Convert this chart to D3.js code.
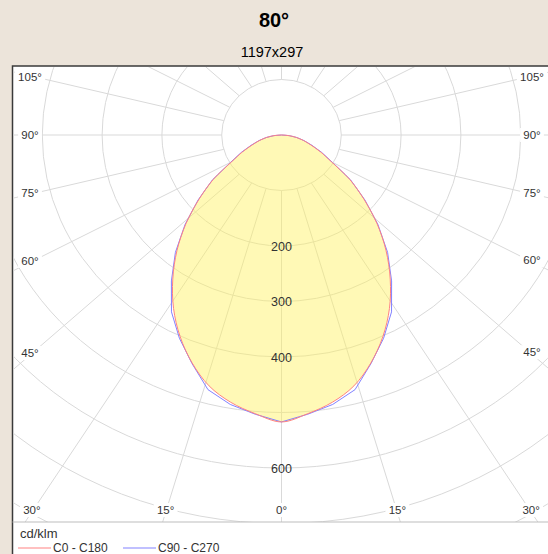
<!DOCTYPE html>
<html>
<head>
<meta charset="utf-8">
<script src="https://cdn.jsdelivr.net/npm/d3@7"></script>
<style>
  body { margin: 0; background: #ece4da; }
  svg { display: block; font-family: "Liberation Sans", Arial, sans-serif; }
</style>
</head>
<body>
<svg width="548" height="554"></svg>
<script>
// Chart data
var title = "80°";
var subtitle = "1197x297";
var unitLabel = "cd/klm";

// gamma angles (deg from nadir), 0..90 every 5
var gammas = [0, 5, 10, 15, 20, 25, 30, 35, 40, 45, 50, 55, 60, 65, 70, 75, 80, 85, 90];
// C0 - C180 plane, cd/klm
var c0c180 = [517, 504, 489, 468, 437, 401, 361, 317, 272, 226, 180, 139, 96, 72, 52, 38, 25, 12, 0];
// C90 - C270 plane, cd/klm
var c90c270 = [517, 505, 493, 475, 438, 404, 368, 321, 276, 228, 182, 141, 98, 74, 54, 39, 26, 13, 0];

var ringValues = [100, 200, 300, 400, 500, 600, 700, 800, 900, 1000, 1100, 1200];
var ringLabels = [200, 300, 400, 600];
var spokeAngles = d3.range(0, 360, 15);
var labelledAngles = [0, 15, 30, 45, 60, 75, 90, 105];

var legendNames = ["C0 - C180", "C90 - C270"];
var legendColors = ["#ff8282", "#8282ff"];

// Layout
var svg = d3.select("svg"),
    width = 548,
    height = 554;
var cx = 281.5, cy = 135;
var plot = { x0: 12.5, y0: 66, x1: 560, y1: 522 };

// the picture is stretched a bit horizontally
var x = d3.scaleLinear().domain([-1000, 1000]).range([cx - 598, cx + 598]);
var y = d3.scaleLinear().domain([0, 1000]).range([cy, cy + 555]);
var spokeStretch = 0.64 / 0.598;

function px(g, r) { return x(r * Math.sin(g * Math.PI / 180)); }
function py(g, r) { return y(r * Math.cos(g * Math.PI / 180)); }

// Titles
svg.append("text").attr("x", 274).attr("y", 27).attr("text-anchor", "middle")
    .style("font-size", "20px").style("font-weight", "bold").text(title);
svg.append("text").attr("x", 272).attr("y", 57).attr("text-anchor", "middle")
    .style("font-size", "14.5px").text(subtitle);

// Panel
svg.append("rect").attr("x", plot.x0).attr("y", plot.y0)
    .attr("width", 600).attr("height", 600)
    .attr("fill", "#fff").attr("stroke", "#3a3a3a").attr("stroke-width", 1.5);

svg.append("clipPath").attr("id", "clip").append("rect")
    .attr("x", plot.x0 + 1).attr("y", plot.y0 + 1)
    .attr("width", plot.x1 - plot.x0).attr("height", plot.y1 - plot.y0 - 1);

var g = svg.append("g").attr("clip-path", "url(#clip)");

// Rings
g.selectAll(".ring").data(ringValues).enter().append("ellipse")
    .attr("cx", cx).attr("cy", cy)
    .attr("rx", function(d) { return x(d) - x(0); })
    .attr("ry", function(d) { return y(d) - y(0); })
    .attr("fill", "none").attr("stroke", "#d9d9d9").attr("stroke-width", 1);

// Spokes
function spokeDir(a) {
  var t = a * Math.PI / 180;
  return [(x(1) - x(0)) * spokeStretch * Math.sin(t), (y(1) - y(0)) * Math.cos(t)];
}
g.selectAll(".spoke").data(spokeAngles).enter().append("line")
    .attr("x1", function(d) { return cx + spokeDir(d)[0] * 100 / spokeStretch; })
    .attr("y1", function(d) { return cy + spokeDir(d)[1] * 100; })
    .attr("x2", function(d) { return cx + spokeDir(d)[0] * 2000; })
    .attr("y2", function(d) { return cy + spokeDir(d)[1] * 2000; })
    .attr("stroke", "#d9d9d9").attr("stroke-width", 1);

// Light distribution: right half from 90 down to 0, then left half 5..90
function shape(vals) {
  var pts = [];
  for (var i = gammas.length - 1; i >= 0; i--) pts.push([px(gammas[i], vals[i]), py(gammas[i], vals[i])]);
  for (var j = 1; j < gammas.length - 1; j++) pts.push([px(-gammas[j], vals[j]), py(-gammas[j], vals[j])]);
  return pts;
}
var line = d3.line().curve(d3.curveCatmullRomClosed);

g.append("path").attr("d", line(shape(c0c180)))
    .attr("fill", "#fff25e").attr("fill-opacity", 0.45).attr("stroke", "none");
g.append("path").attr("d", d3.line().curve(d3.curveLinearClosed)(shape(c90c270)))
    .attr("fill", "none").attr("stroke", legendColors[1]).attr("stroke-width", 1);
g.append("path").attr("d", line(shape(c0c180)))
    .attr("fill", "none").attr("stroke", legendColors[0]).attr("stroke-width", 1);

// Ring value labels
g.selectAll(".rlab").data(ringLabels).enter().append("text")
    .attr("x", cx).attr("y", function(d) { return y(d) + 4.5; })
    .attr("text-anchor", "middle").style("font-size", "12.5px").attr("fill", "#333")
    .text(function(d) { return d; });

// Angle labels where spokes meet an inset box
var inset = { left: 30, right: 532, bottom: 510 };
var angLabs = [];
labelledAngles.forEach(function(a) {
  [-1, 1].forEach(function(s) {
    if (a === 0 && s === 1) return;
    var d = spokeDir(a * s), t = Infinity;
    if (d[0] < 0) t = Math.min(t, (inset.left - cx) / d[0]);
    if (d[0] > 0) t = Math.min(t, (inset.right - cx) / d[0]);
    if (d[1] > 0) t = Math.min(t, (inset.bottom - cy) / d[1]);
    angLabs.push({ text: a + "°", x: cx + d[0] * t, y: cy + d[1] * t });
  });
});
var al = g.selectAll(".alab").data(angLabs).enter().append("g")
    .attr("transform", function(d) { return "translate(" + d.x + "," + d.y + ")"; });
al.append("rect").attr("x", function(d) { return -d.text.length * 3.3 - 2; }).attr("y", -7)
    .attr("width", function(d) { return d.text.length * 6.6 + 4; }).attr("height", 14)
    .attr("fill", "#fff");
al.append("text").attr("text-anchor", "middle").attr("y", 4)
    .style("font-size", "11.5px").attr("fill", "#333")
    .text(function(d) { return d.text; });

// Legend area
svg.append("line").attr("x1", plot.x0).attr("x2", width).attr("y1", plot.y1).attr("y2", plot.y1)
    .attr("stroke", "#bdbdbd").attr("stroke-width", 1);
svg.append("text").attr("x", 20).attr("y", 538).style("font-size", "13px").attr("fill", "#333").text(unitLabel);

var lx = [18, 123];
legendNames.forEach(function(n, i) {
  svg.append("line").attr("x1", lx[i]).attr("x2", lx[i] + 33).attr("y1", 548).attr("y2", 548)
      .attr("stroke", legendColors[i]).attr("stroke-width", 1.2);
  svg.append("text").attr("x", lx[i] + 35).attr("y", 551.5).style("font-size", "12px").attr("fill", "#333").text(n);
});
</script>
</body>
</html>
